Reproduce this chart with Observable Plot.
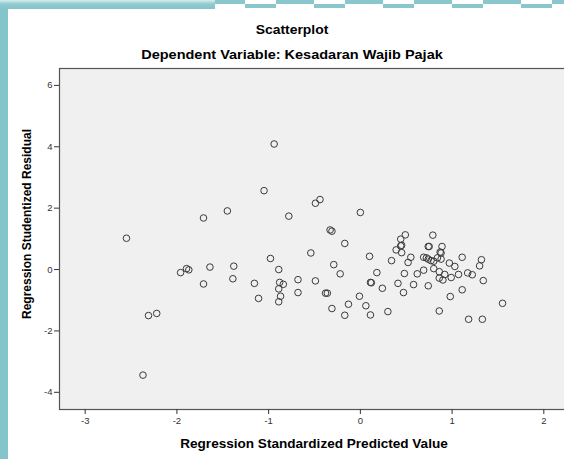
<!DOCTYPE html>
<html>
<head>
<meta charset="utf-8">
<script src="https://cdn.jsdelivr.net/npm/d3@7"></script>
<script src="https://cdn.jsdelivr.net/npm/@observablehq/plot@0.6"></script>
<style>
  html, body { margin: 0; padding: 0; background: #fff; }
  body { width: 564px; height: 459px; overflow: hidden; position: relative; font-family: "Liberation Sans", Arial, sans-serif; }
  #leftbar { position: absolute; left: 0; top: 0; width: 8px; height: 459px; background: #84c4cb; z-index: 2; }
  #topbar { position: absolute; left: 0; top: 0; width: 215px; height: 9px; background: linear-gradient(#d6eef0, #8fcad0 45%, #84c4cb); z-index: 2; }
  #topdash1 { position: absolute; left: 215px; top: 0; width: 349px; height: 4px;
    background: repeating-linear-gradient(90deg, #8ac7cd 0 38px, transparent 38px 69px); background-position: -8px 0; }
  #topdash2 { position: absolute; left: 215px; top: 4px; width: 349px; height: 4px;
    background: repeating-linear-gradient(90deg, transparent 0 38px, #8ac7cd 38px 69px); background-position: -8px 0; }
  .t { position: absolute; font-weight: bold; font-size: 12px; line-height: 12px; color: #000; white-space: nowrap; text-align: center; transform-origin: center center; }
  #chart { position: absolute; left: 0; top: 0; width: 580px; }
  #chart svg { max-width: none !important; }
</style>
</head>
<body>
<div id="chart"></div>
<div id="leftbar"></div>
<div id="topbar"></div>
<div id="topdash1"></div>
<div id="topdash2"></div>
<div class="t" style="left:141.5px; top:24px; width:300px; transform: scaleX(1.16);">Scatterplot</div>
<div class="t" style="left:141.5px; top:47.5px; width:300px; font-size:13px; line-height:13px; transform: scaleX(1.115);">Dependent Variable: Kesadaran Wajib Pajak</div>
<div class="t" style="left:114px; top:437.5px; width:400px; transform: scaleX(1.13);">Regression Standardized Predicted Value</div>
<div class="t" style="left:-123px; top:218px; width:300px; transform: rotate(-90deg); transform-origin: 150px 6px;">Regression Studentized Residual</div>
<script>
// Regression Standardized Predicted Value (x) and Regression Studentized Residual (y)
const predicted = [
  -0.94, -1.05, -1.45, -1.71, -0.78, -2.55, -0.98, -0.89, -1.64, -1.38,
  -1.895, -1.87, -1.96, -1.71, -1.39, -1.155, -0.88, -0.84, -0.89, -0.87,
  -0.89, -1.11, -0.68, -0.68, -2.31, -2.22, -2.37, -0.49, -0.44, 0.00,
  -0.33, -0.31, -0.17, -0.54, 0.10, -0.29, -0.22, 0.18, 0.11, 0.12,
  0.24, -0.49, -0.38, -0.36, -0.01, -0.31, -0.13, -0.17, 0.06, 0.11,
  0.30, 0.49, 0.44, 0.44, 0.45, 0.39, 0.45, 0.34, 0.52, 0.55,
  0.48, 0.41, 0.47, 0.58, 0.62, 0.69, 0.74, 0.79, 0.74, 0.75,
  0.69, 0.72, 0.74, 0.77, 0.80, 0.80, 0.84, 0.89, 0.87, 0.88,
  0.88, 0.86, 0.92, 0.86, 0.90, 0.97, 1.03, 0.99, 1.07, 1.11,
  0.98, 1.11, 0.86, 1.17, 1.22, 1.30, 1.32, 1.34, 1.18, 1.33,
  1.55
];
const residual = [
  4.09, 2.57, 1.91, 1.68, 1.74, 1.02, 0.36, 0.00, 0.08, 0.11,
  0.03, -0.01, -0.10, -0.47, -0.30, -0.45, -0.42, -0.48, -0.63, -0.87,
  -1.05, -0.94, -0.33, -0.75, -1.50, -1.43, -3.44, 2.16, 2.28, 1.86,
  1.29, 1.25, 0.85, 0.54, 0.43, 0.16, -0.14, -0.10, -0.42, -0.43,
  -0.61, -0.37, -0.77, -0.77, -0.87, -1.27, -1.13, -1.49, -1.18, -1.48,
  -1.37, 1.13, 0.99, 0.77, 0.79, 0.64, 0.55, 0.29, 0.23, 0.40,
  -0.13, -0.45, -0.75, -0.49, -0.14, -0.02, -0.53, 1.12, 0.75, 0.75,
  0.40, 0.38, 0.34, 0.29, 0.27, 0.03, 0.38, 0.75, 0.57, 0.54,
  0.34, -0.07, -0.16, -0.28, -0.34, 0.21, 0.10, -0.26, -0.16, 0.40,
  -0.88, -0.66, -1.35, -0.11, -0.17, 0.12, 0.32, -0.36, -1.62, -1.62,
  -1.10
];
const xTicks = [-3, -2, -1, 0, 1, 2];
const yTicks = [-4, -2, 0, 2, 4, 6];

const data = predicted.map((p, i) => ({x: p, y: residual[i]}));

const chart = Plot.plot({
  width: 580,
  height: 459,
  marginLeft: 59,
  marginRight: 11,
  marginTop: 68,
  marginBottom: 50,
  style: {fontFamily: "'Liberation Sans', Arial, sans-serif", background: "transparent", color: "#333", maxWidth: "none"},
  x: {domain: [-3.28, 2.28]},
  y: {domain: [-4.56, 6.55]},
  marks: [
    Plot.frame({fill: "#f0f0f0", stroke: "#555", strokeWidth: 1.2}),
    Plot.axisX({ticks: xTicks, tickFormat: d => String(d), tickSize: 5, tickPadding: 3, fontSize: 9.5, label: null, stroke: "#333", fill: "#333"}),
    Plot.axisY({ticks: yTicks, tickFormat: d => String(d), tickSize: 5, tickPadding: 2, fontSize: 9.5, label: null, stroke: "#333", fill: "#333"}),
    Plot.dot(data, {x: "x", y: "y", r: 3.3, stroke: "#3a3a3a", strokeWidth: 1, fill: "none"})
  ]
});
document.getElementById("chart").appendChild(chart);
</script>
</body>
</html>
